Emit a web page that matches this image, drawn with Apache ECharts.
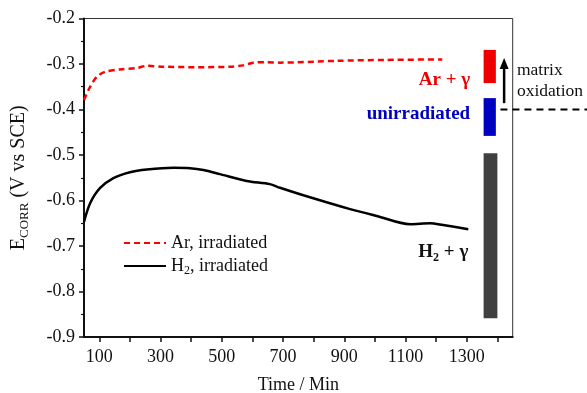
<!DOCTYPE html>
<html>
<head>
<meta charset="utf-8">
<script src="https://cdn.jsdelivr.net/npm/echarts@6/dist/echarts.min.js"></script>
<style>html,body{margin:0;padding:0;background:#fff}#c{width:587px;height:393px}</style>
</head>
<body>
<div id="c"></div>
<script>
// ---- data ----
const arTime = [50, 70, 92, 119, 168, 222, 255, 309, 418, 527, 570, 603, 646, 690, 875, 1038, 1220];
const arE    = [-0.379, -0.350, -0.328, -0.317, -0.312, -0.309, -0.304, -0.306, -0.307, -0.306, -0.303, -0.297, -0.296, -0.297, -0.293, -0.291, -0.290];
const h2Time = [50, 70, 102, 146, 200, 255, 342, 396, 440, 494, 581, 657, 690, 788, 919, 1006, 1115, 1180, 1223, 1305];
const h2E    = [-0.647, -0.606, -0.573, -0.551, -0.538, -0.532, -0.528, -0.529, -0.533, -0.542, -0.557, -0.564, -0.572, -0.593, -0.619, -0.634, -0.652, -0.650, -0.654, -0.663];
const xLabelValues = [100, 300, 500, 700, 900, 1100, 1300];
const xTickValues  = [100, 200, 300, 400, 500, 600, 700, 800, 900, 1000, 1100, 1200, 1300, 1400];
// reference bars: [xStart, xEnd, eTop, eBottom]
const barNames  = ['Ar + γ', 'unirradiated', 'H2 + γ'];
const barXStart = [1355, 1355, 1355];
const barXEnd   = [1395, 1395, 1400];
const barETop   = [-0.269, -0.375, -0.496];
const barEBot   = [-0.342, -0.458, -0.859];
const barColors = ['#ee0000', '#0000c0', '#404040'];
// bar labels (right-anchored)
const labelX = [1311, 1311, 1305];
const labelE = [-0.336, -0.409, -0.713];
// matrix oxidation annotation
const arrowX = 1422, arrowFrom = -0.386, arrowTo = -0.287;
const refE = -0.4, refXStart = 1410, refXEnd = 1700;
const noteX = 1464, noteE = [-0.315, -0.361], noteText = ['matrix', 'oxidation'];

const serif = '"Liberation Serif", "Times New Roman", serif';
const chart = echarts.init(document.getElementById('c'), null, {renderer: 'canvas'});

const barData = barNames.map((n, i) => [barXStart[i], barXEnd[i], barETop[i], barEBot[i]]);

chart.setOption({
  animation: false,
  grid: {left: 84, top: 18.5, right: 74.3, bottom: 56, show: true, borderColor: '#333', borderWidth: 1,
         containLabel: false, outerBoundsMode: 'none'},
  legend: {
    orient: 'vertical', left: 118, top: 229, itemWidth: 42, itemHeight: 16, itemGap: 5,
    itemStyle: {opacity: 0},
    textStyle: {fontFamily: serif, fontSize: 18, color: '#111',
      rich: {n: {fontFamily: serif, fontSize: 18, color: '#111'},
             s: {fontFamily: serif, fontSize: 12, color: '#111', padding: [10, 0, 0, 0]}}},
    formatter: function (name) { return name === 'H2' ? '{n|H}{s|2}{n|, irradiated}' : '{n|' + name + '}'; },
    data: ['Ar, irradiated', 'H2']
  },
  xAxis: {
    type: 'value', min: 50, max: 1450,
    name: 'Time / Min', nameLocation: 'middle', nameGap: 39,
    nameTextStyle: {fontFamily: serif, fontSize: 18, color: '#111'},
    axisLine: {lineStyle: {color: '#111', width: 2}},
    axisTick: {show: true, customValues: xTickValues, length: 5, lineStyle: {color: '#111', width: 1.5}},
    axisLabel: {customValues: xLabelValues, fontFamily: serif, fontSize: 18, color: '#111', margin: 11,
                formatter: v => String(v)},
    splitLine: {show: false}
  },
  yAxis: {
    type: 'value', min: -0.9, max: -0.2, interval: 0.1,
    name: '{e|E}{s|CORR}{e| (V vs SCE)}', nameLocation: 'middle', nameGap: 53,
    nameTextStyle: {rich: {e: {fontFamily: serif, fontSize: 20, color: '#111'},
                           s: {fontFamily: serif, fontSize: 13, color: '#111', padding: [11, 0, 0, 0]}}},
    axisLine: {show: true, lineStyle: {color: '#111', width: 2}},
    axisTick: {show: true, length: 5, lineStyle: {color: '#111', width: 1.5}},
    minorTick: {show: true, splitNumber: 2, length: 3, lineStyle: {color: '#111', width: 1.2}},
    axisLabel: {fontFamily: serif, fontSize: 18, color: '#111', margin: 9, formatter: v => v.toFixed(1)},
    splitLine: {show: false}
  },
  series: [
    {name: 'Ar, irradiated', type: 'line', smooth: 0.3, symbol: 'none',
     lineStyle: {color: '#ff0000', width: 2.5, type: [6, 4]}, itemStyle: {color: '#ff0000'},
     data: arTime.map((t, i) => [t, arE[i]])},
    {name: 'H2', type: 'line', smooth: 0.3, symbol: 'none',
     lineStyle: {color: '#000', width: 2.5}, itemStyle: {color: '#000'},
     data: h2Time.map((t, i) => [t, h2E[i]])},
    {type: 'custom', clip: false, silent: true, encode: {x: [0, 1], y: [2, 3]},
     data: barData,
     renderItem: function (params, api) {
       const i = params.dataIndex;
       const p0 = api.coord([api.value(0), api.value(2)]);
       const p1 = api.coord([api.value(1), api.value(3)]);
       const lp = api.coord([labelX[i], labelE[i]]);
       const txt = i === 2
         ? {type: 'text', x: lp[0], y: lp[1], style: {text: '{b|H}{s|2}{b| + γ}', align: 'right', verticalAlign: 'middle',
             rich: {b: {fontFamily: serif, fontSize: 19, fontWeight: 'bold', fill: '#111'},
                    s: {fontFamily: serif, fontSize: 12, fontWeight: 'bold', fill: '#111', padding: [11, 0, 0, 0]}}}}
         : {type: 'text', x: lp[0], y: lp[1], style: {text: barNames[i], align: 'right', verticalAlign: 'middle',
             fontFamily: serif, fontSize: 19, fontWeight: 'bold', fill: barColors[i]}};
       return {type: 'group', children: [
         {type: 'rect', shape: {x: p0[0], y: p0[1], width: p1[0] - p0[0], height: p1[1] - p0[1]}, style: {fill: barColors[i]}},
         txt
       ]};
     }},
    {type: 'custom', clip: false, silent: true, encode: {x: 0, y: 1},
     data: [[arrowX, arrowFrom]],
     renderItem: function (params, api) {
       const a = api.coord([arrowX, arrowFrom]);
       const b = api.coord([arrowX, arrowTo]);
       const r0 = api.coord([refXStart, refE]);
       const r1 = api.coord([refXEnd, refE]);
       const children = [
         {type: 'line', shape: {x1: a[0], y1: a[1], x2: b[0], y2: b[1] + 8}, style: {stroke: '#000', lineWidth: 2.5}},
         {type: 'polygon', shape: {points: [[b[0], b[1]], [b[0] - 4.5, b[1] + 11], [b[0] + 4.5, b[1] + 11]]}, style: {fill: '#000'}},
         {type: 'line', shape: {x1: r0[0], y1: r0[1], x2: r1[0], y2: r1[1]}, style: {stroke: '#000', lineWidth: 2, lineDash: [7, 5]}}
       ];
       noteText.forEach((t, k) => {
         const p = api.coord([noteX, noteE[k]]);
         children.push({type: 'text', x: p[0], y: p[1], style: {text: t, align: 'left', verticalAlign: 'middle',
           fontFamily: serif, fontSize: 17.5, fill: '#111'}});
       });
       return {type: 'group', children: children};
     }}
  ]
});
</script>
</body>
</html>
